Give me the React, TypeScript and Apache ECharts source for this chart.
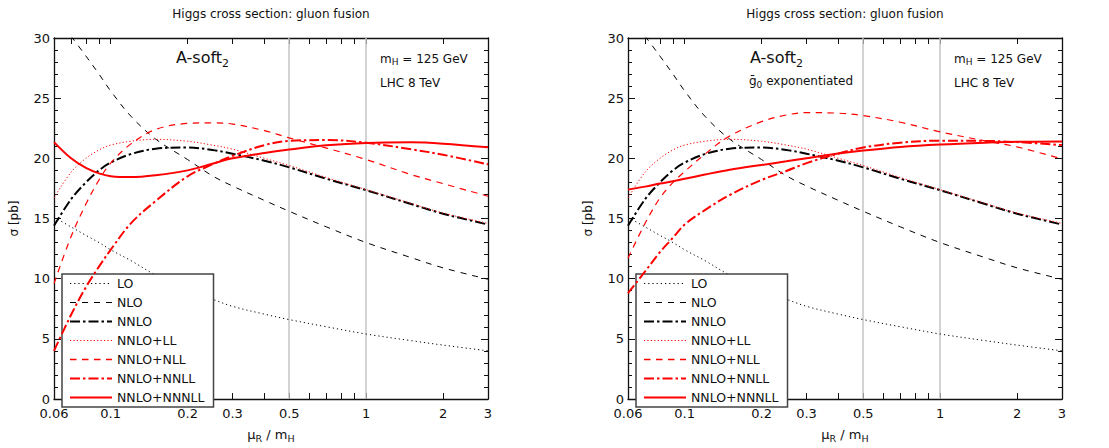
import React, { useEffect, useRef } from 'react';
import * as echarts from 'echarts';

// ---- data ----
const MU = [0.06, 0.07, 0.08, 0.09, 0.1, 0.12, 0.15, 0.2, 0.25, 0.3, 0.4, 0.5, 0.7, 1, 1.5, 2, 3];

const LO = [15.1, 14.3, 13.6, 13.0, 12.4, 11.5, 10.3, 9.1, 8.3, 7.7, 7.05, 6.6, 6.0, 5.4, 4.85, 4.48, 4.0];
const NLO = [null, 30.15, 28.5, 27.0, 25.6, 23.5, 21.6, 19.9, 18.55, 17.7, 16.5, 15.6, 14.3, 13.0, 11.75, 10.9, 9.95];
const NNLO = [14.4, 16.6, 18.0, 19.0, 19.65, 20.35, 20.8, 20.9, 20.7, 20.38, 19.8, 19.25, 18.3, 17.35, 16.2, 15.4, 14.5];
const NNLO_LL = [16.7, 18.85, 20.0, 20.7, 21.1, 21.42, 21.58, 21.42, 21.1, 20.76, 20.0, 19.4, 18.4, 17.4, 16.25, 15.45, 14.6];

// left panel: A-soft2
const NLL_L = [9.6, 13.5, 16.2, 18.2, 19.6, 21.2, 22.4, 22.9, 22.95, 22.85, 22.3, 21.7, 20.85, 19.9, 18.65, 17.9, 16.85];
const NNLL_L = [4.0, 7.0, 9.3, 11.0, 12.4, 14.6, 16.45, 18.5, 19.5, 20.2, 21.1, 21.45, 21.52, 21.3, 20.75, 20.3, 19.5];
const NNNLL_L = [21.35, 20.0, 19.2, 18.75, 18.52, 18.44, 18.6, 19.0, 19.55, 20.0, 20.45, 20.73, 21.08, 21.28, 21.33, 21.22, 20.92];

// right panel: A-soft2, g0 exponentiated
const NLL_R = [11.7, 14.6, 16.7, 18.0, 18.9, 20.35, 21.85, 23.05, 23.6, 23.8, 23.75, 23.55, 23.0, 22.2, 21.45, 20.95, 19.95];
const NNLL_R = [8.8, 10.6, 12.2, 13.4, 14.5, 15.7, 16.95, 18.2, 18.95, 19.6, 20.4, 20.9, 21.3, 21.47, 21.45, 21.35, 21.1];
const NNNLL_R = [17.4, 17.65, 17.9, 18.1, 18.3, 18.65, 19.05, 19.45, 19.75, 20.0, 20.4, 20.65, 20.95, 21.15, 21.3, 21.37, 21.4];

const SERIES_NAMES = ['LO', 'NLO', 'NNLO', 'NNLO+LL', 'NNLO+NLL', 'NNLO+NNLL', 'NNLO+NNNLL'];
const X_LABELS = [0.06, 0.1, 0.2, 0.3, 0.5, 1, 2, 3];
const X_TICKS = [0.06, 0.07, 0.08, 0.09, 0.1, 0.2, 0.3, 0.4, 0.5, 0.6, 0.7, 0.8, 0.9, 1, 2, 3];
const REF_LINES = [0.5, 1];
const Y_MIN = 0;
const Y_MAX = 30;
const Y_STEP = 5;
const TITLE = 'Higgs cross section: gluon fusion';

// ---- layout / style ----
const FONT = "'DejaVu Sans', 'Noto Sans', sans-serif";
const INK = '#111';
const GRID_LEFTS = [54, 628];
const GRID_TOP = 38;
const GRID_W = 434;
const GRID_H = 368;

const LINE_STYLES = [
  { color: '#000000', width: 1, type: [1.2, 3] },
  { color: '#000000', width: 1, type: [6, 6] },
  { color: '#000000', width: 2, type: [10, 3, 2.5, 3] },
  { color: '#ff0000', width: 1, type: [1.2, 2.2] },
  { color: '#ff0000', width: 1.2, type: [6.5, 5.5] },
  { color: '#ff0000', width: 2, type: [10, 3, 2.5, 3] },
  { color: '#ff0000', width: 2, type: 'solid' },
];
const LEGEND_LINE_WIDTHS = [1, 1, 2, 1, 1.5, 2, 2];

const fmtX = (v: number) => String(parseFloat(Number(v).toPrecision(3)));

function buildOption() {
  const panelData = [
    [LO, NLO, NNLO, NNLO_LL, NLL_L, NNLL_L, NNNLL_L],
    [LO, NLO, NNLO, NNLO_LL, NLL_R, NNLL_R, NNNLL_R],
  ];

  const grids = GRID_LEFTS.map((left) => ({ left, top: GRID_TOP, width: GRID_W, height: GRID_H }));

  const xAxes: any[] = [];
  const yAxes: any[] = [];
  GRID_LEFTS.forEach((_, gi) => {
    const common = {
      type: 'log',
      logBase: 10,
      gridIndex: gi,
      min: 0.06,
      max: 3,
      axisLine: { show: true, onZero: false, lineStyle: { color: INK, width: 1.3 } },
      axisTick: { show: true, inside: true, length: 6, customValues: X_TICKS, lineStyle: { color: INK, width: 1 } },
      splitLine: { show: false },
      minorTick: { show: false },
      minorSplitLine: { show: false },
    };
    xAxes.push({
      ...common,
      position: 'bottom',
      axisLabel: {
        show: true,
        customValues: X_LABELS,
        formatter: fmtX,
        margin: 8,
        fontSize: 13,
        color: INK,
        fontFamily: FONT,
      },
      name: '{m|μ}{s|R}{m| / m}{s|H}',
      nameLocation: 'middle',
      nameGap: 27,
      nameTextStyle: {
        color: INK,
        fontFamily: FONT,
        fontSize: 13,
        rich: {
          m: { fontSize: 13, fontFamily: FONT, color: INK, lineHeight: 17, verticalAlign: 'middle' },
          s: { fontSize: 9.5, fontFamily: FONT, color: INK, lineHeight: 17, verticalAlign: 'bottom' },
        },
      },
    });
    xAxes.push({ ...common, position: 'top', axisLabel: { show: false } });

    const ycommon = {
      type: 'value',
      gridIndex: gi,
      min: Y_MIN,
      max: Y_MAX,
      interval: Y_STEP,
      axisLine: { show: true, onZero: false, lineStyle: { color: INK, width: 1.3 } },
      axisTick: { show: true, inside: true, length: 7, lineStyle: { color: INK, width: 1 } },
      minorTick: { show: true, splitNumber: 5, length: 4, lineStyle: { color: INK, width: 1 } },
      splitLine: { show: false },
      minorSplitLine: { show: false },
    };
    yAxes.push({
      ...ycommon,
      position: 'left',
      axisLabel: { show: true, margin: 4, fontSize: 13, color: INK, fontFamily: FONT },
      name: 'σ [pb]',
      nameLocation: 'middle',
      nameGap: 34,
      nameTextStyle: { color: INK, fontFamily: FONT, fontSize: 12 },
    });
    yAxes.push({ ...ycommon, position: 'right', axisLabel: { show: false } });
  });

  const series: any[] = [];
  panelData.forEach((sets, gi) => {
    sets.forEach((ys, si) => {
      const st = LINE_STYLES[si];
      const s: any = {
        type: 'line',
        name: SERIES_NAMES[si],
        xAxisIndex: gi * 2,
        yAxisIndex: gi * 2,
        data: MU.map((m, k) => [m, ys[k]]),
        showSymbol: false,
        symbol: 'none',
        smooth: 0.35,
        clip: true,
        connectNulls: false,
        color: st.color,
        itemStyle: { color: st.color },
        lineStyle: { color: st.color, width: st.width, type: st.type, cap: 'butt' },
        emphasis: { disabled: true },
        silent: true,
        z: 3 + si,
      };
      if (si === 0) {
        s.markLine = {
          silent: true,
          symbol: ['none', 'none'],
          label: { show: false },
          lineStyle: { color: '#c4c4c4', width: 1.5, type: 'solid' },
          emphasis: { disabled: true },
          data: REF_LINES.map((v) => ({ xAxis: v })),
          z: 1,
        };
      }
      series.push(s);
    });
  });

  const legendData = SERIES_NAMES.map((name, i) => ({
    name,
    itemStyle: { opacity: 0 },
    lineStyle: {
      color: LINE_STYLES[i].color,
      width: LEGEND_LINE_WIDTHS[i],
      type: LINE_STYLES[i].type,
      opacity: 1,
    },
  }));

  const legends = GRID_LEFTS.map((left) => ({
    left: left + 8,
    top: 274,
    orient: 'vertical',
    data: legendData,
    itemWidth: 42,
    itemHeight: 12,
    itemGap: 6,
    padding: [3, 9, 3, 7],
    borderColor: '#444',
    borderWidth: 1.5,
    borderRadius: 0,
    backgroundColor: '#fff',
    selectedMode: false,
    textStyle: { fontSize: 12.5, color: INK, fontFamily: FONT },
    itemStyle: { opacity: 0 },
  }));

  const txt = (x: number, y: number, text: string, extra: any = {}) => ({
    type: 'text',
    x,
    y,
    silent: true,
    z: 10,
    style: {
      text,
      fill: INK,
      fontFamily: FONT,
      fontSize: 12,
      textAlign: 'left',
      textVerticalAlign: 'middle',
      ...extra,
    },
  });

  const richSub = (main: number, sub: number, lh: number) => ({
    n: { fontSize: main, fontFamily: FONT, fill: INK, lineHeight: lh, verticalAlign: 'middle' },
    s: { fontSize: sub, fontFamily: FONT, fill: INK, lineHeight: lh, verticalAlign: 'bottom' },
  });

  const graphics: any[] = [];
  GRID_LEFTS.forEach((left, gi) => {
    const cx = left + GRID_W / 2;
    graphics.push(txt(cx, 13.5, TITLE, { textAlign: 'center' }));
    graphics.push(txt(left + 122, 57.7, '{n|A-soft}{s|2}', { rich: richSub(16, 11, 22) }));
    graphics.push(txt(left + 326, 58.5, '{n|m}{s|H}{n| = 125 GeV}', { rich: richSub(12, 9, 16) }));
    graphics.push(txt(left + 326, 82.5, 'LHC 8 TeV'));
    if (gi === 1) {
      graphics.push(txt(left + 121, 81.3, '{n|ḡ}{s|0}{n| exponentiated}', { rich: richSub(12, 9, 16) }));
    }
  });

  return {
    animation: false,
    backgroundColor: '#fff',
    textStyle: { fontFamily: FONT },
    grid: grids,
    xAxis: xAxes,
    yAxis: yAxes,
    legend: legends,
    series,
    graphic: graphics,
  };
}

export default function App() {
  const ref = useRef<HTMLDivElement>(null);
  useEffect(() => {
    if (!ref.current) return;
    const chart = echarts.init(ref.current, undefined, { renderer: 'svg' });
    chart.setOption(buildOption() as any);
    return () => chart.dispose();
  }, []);
  return (
    <div
      ref={ref}
      style={{ position: 'fixed', left: 0, top: 0, width: '1109px', height: '448px', background: '#fff' }}
    />
  );
}
